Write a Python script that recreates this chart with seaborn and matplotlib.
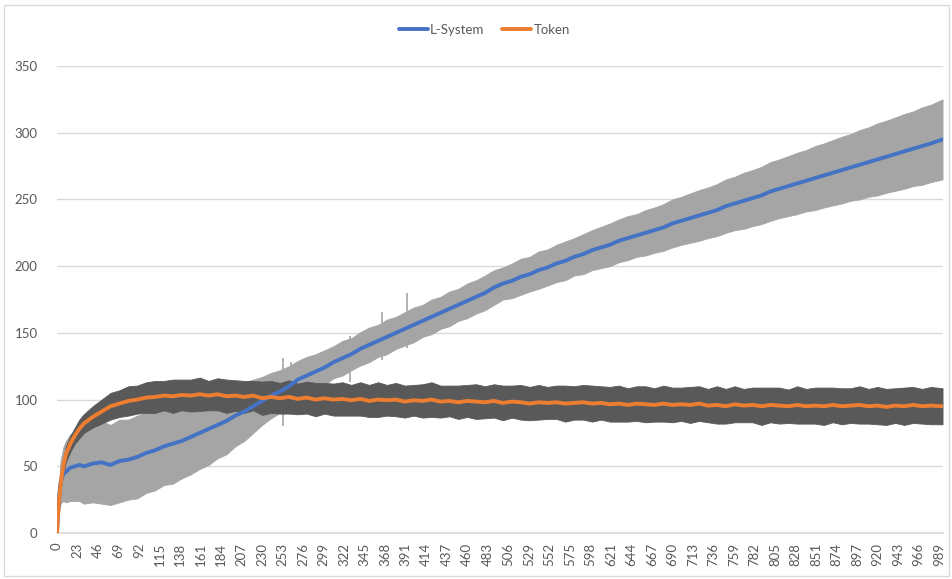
import numpy as np
import pandas as pd
import matplotlib
matplotlib.use("Agg")
import matplotlib.pyplot as plt
from matplotlib.patches import Rectangle
import seaborn as sns

# sample positions along the run (category index)
x_vals = [0, 2, 4, 7, 10, 15, 20, 25] + list(range(30, 1000, 10))[:-1] + [993]

# L-System mean
lsys = [0, 25, 38, 44, 46, 49, 50, 51,
        50, 52, 53, 51, 54, 55, 57, 60, 62, 65, 67, 69, 72, 75, 78, 81, 84, 88, 91, 95, 99, 103, 106, 110, 115, 118, 121, 124,
        128, 131, 134, 138, 141, 144, 147, 150, 153, 156, 159, 162, 165, 168, 171, 174, 177, 180, 184, 187,
        189, 192, 194, 197, 199, 202, 204, 207, 209, 212,
        214, 216, 219, 221, 223, 225, 227, 229, 232, 234,
        236, 238, 240, 242, 245, 247, 249, 251, 253, 256,
        258, 260, 262, 264, 266, 268, 270, 272, 274, 276,
        278, 280, 282, 284, 286, 288, 290, 292, 295]

# L-System error (half width)
lsys_err = [0, 10, 16, 20, 23, 25, 26, 27,
            28, 29, 31, 30, 31, 30, 31, 30, 30, 29, 30, 28, 28, 27, 27, 25, 25, 23, 22, 20, 18, 17, 16, 15, 14, 14, 13, 13,
            12, 13, 12, 12.5, 13, 12, 13, 12, 12.5, 13, 12, 13, 12, 13, 12, 13, 12.5, 13, 13, 12,
            13, 13.5, 13, 14, 13.5, 14, 14.5, 14, 15, 15,
            15.5, 16, 16, 16.5, 16, 17, 17, 17.5, 18, 18,
            18.5, 19, 19, 19.5, 20, 20, 21, 21, 21.5, 22,
            22, 22.5, 23, 23, 24, 24, 24.5, 25, 25, 26,
            26, 27, 27, 27.5, 28, 28, 29, 29, 30]

# Token mean
token = [0, 22, 36, 50, 59, 67, 73, 78,
         82, 87, 91, 95, 97, 99, 100, 101.5, 102, 103, 102.5, 103.5, 103, 104, 103, 104, 102.5, 103, 102, 103, 101, 102, 101, 102, 100.5, 101.5, 100, 101,
         100, 100.5, 99.5, 100.5, 99, 100, 99.5, 100, 98.5, 99.5, 99, 100, 98.5, 99, 98, 99, 98.5, 98, 99, 97.5,
         98.5, 98, 97, 98, 97.5, 98, 97, 97.5, 98, 97,
         97.5, 96.5, 97, 96, 97, 96.5, 96, 97, 96, 96.5,
         96, 97, 95.5, 96, 95, 96.5, 95.5, 96, 95, 96,
         95.5, 95, 96, 95, 95.5, 95, 96, 95, 95.5, 96,
         95, 95.5, 94.5, 95.5, 95, 96, 95, 95.5, 95]

# Token error (half width)
token_err = [0, 3, 4, 5, 6, 6, 6, 7,
             7, 8, 9, 10, 10, 11, 10.5, 11.5, 12, 11, 12.5, 11.5, 12, 12.5, 11, 12, 12.5, 11.5, 12, 11, 12.5, 12, 11.5, 12.5, 11.5, 12, 12.5, 11.5,
             12, 12.5, 11.5, 12.5, 12, 13, 11.5, 12.5, 12, 11.5, 12.5, 13, 12, 11.5, 12.5, 12, 13, 12, 12.5, 13,
             12, 13, 12.5, 13, 12, 12.5, 13.5, 12.5, 13, 13.5,
             12.5, 13, 13.5, 12.5, 13, 13.5, 12.5, 13.5, 13, 12.5,
             13.5, 13, 12.5, 14, 13, 13.5, 12.5, 13, 14, 13,
             13.5, 12.5, 14, 13, 13.5, 14, 13, 13.5, 13, 14,
             13, 14, 13.5, 13, 14, 13.5, 13, 14, 13.5]

# isolated long error bars of the L-System series
spike_x = [224, 253, 262, 328, 365, 393]
spike_lo = [78, 80, 95, 113, 130, 139]
spike_hi = [112, 131, 128, 148, 166, 180]

x_ticks = list(range(0, 990, 23))
y_ticks = [0, 50, 100, 150, 200, 250, 300, 350]

BLUE = "#4472C4"
ORANGE = "#ED7D31"
LIGHT = "#A5A5A5"
DARK = "#595959"
GRID = "#D9D9D9"
TXT = "#595959"

df = pd.DataFrame({
    "x": x_vals * 2,
    "value": lsys + token,
    "err": lsys_err + token_err,
    "series": ["L-System"] * len(x_vals) + ["Token"] * len(x_vals),
})
df["lo"] = df["value"] - df["err"]
df["hi"] = df["value"] + df["err"]

sns.set_theme(style="white")
plt.rcParams["font.family"] = ["Lato", "DejaVu Sans"]

fig = plt.figure(figsize=(9.53, 5.79), dpi=100)
ax = fig.add_axes([0.0598, 0.0794, 0.9297, 0.8066])

ls_df = df[df["series"] == "L-System"]
tk_df = df[df["series"] == "Token"]

# error bars drawn as bands, light one first
ax.fill_between(ls_df["x"], ls_df["lo"], ls_df["hi"], color=LIGHT, lw=0.6, edgecolor=LIGHT, zorder=1)
ax.vlines(spike_x, spike_lo, spike_hi, color=LIGHT, lw=1.2, zorder=1)
ax.fill_between(tk_df["x"], tk_df["lo"], tk_df["hi"], color=DARK, lw=0.6, edgecolor=DARK, zorder=2)

sns.lineplot(data=df, x="x", y="value", hue="series",
             palette={"L-System": BLUE, "Token": ORANGE},
             linewidth=2.8, ax=ax, legend=False, zorder=3)

ax.set_xlim(0, 993.5)
ax.set_ylim(0, 350)
ax.set_xticks(x_ticks)
ax.set_xticklabels([str(t) for t in x_ticks], rotation=90)
ax.set_yticks(y_ticks)
ax.set_xlabel("")
ax.set_ylabel("")
ax.tick_params(axis="both", length=0, labelsize=9.5, colors=TXT)
ax.tick_params(axis="y", pad=14)
ax.tick_params(axis="x", pad=7)
ax.grid(axis="y", color=GRID, lw=1, zorder=0)
ax.set_axisbelow(True)
for side in ["left", "right", "top"]:
    ax.spines[side].set_visible(False)
ax.spines["bottom"].set_color(GRID)
ax.spines["bottom"].set_linewidth(1.2)

handles = [plt.Line2D([], [], color=BLUE, lw=2.8),
           plt.Line2D([], [], color=ORANGE, lw=2.8)]
fig.legend(handles, ["L-System", "Token"], loc="center", bbox_to_anchor=(0.508, 0.948),
           ncol=2, frameon=False, fontsize=9.5, handlelength=2.2, handletextpad=0.15,
           columnspacing=1.4, labelcolor=TXT)

fig.patches.append(Rectangle((0.004, 0.005), 0.992, 0.986, transform=fig.transFigure,
                             fill=False, edgecolor=GRID, lw=1))

fig.savefig("out.png", dpi=100)
